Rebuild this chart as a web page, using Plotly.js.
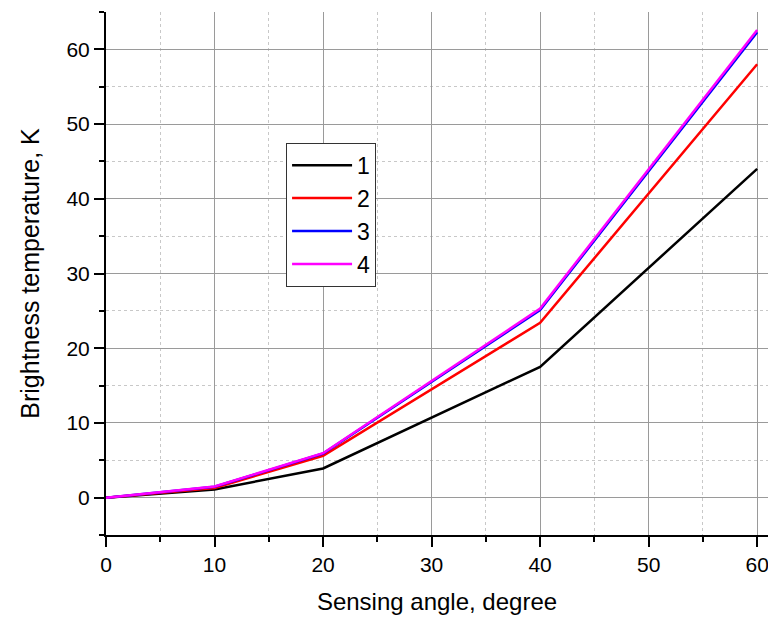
<!DOCTYPE html>
<html>
<head>
<meta charset="utf-8">
<script src="https://cdn.plot.ly/plotly-3.0.1.min.js"></script>
<style>html,body{margin:0;padding:0;background:#fff;}#chart{width:768px;height:620px;}</style>
</head>
<body>
<div id="chart"></div>
<script>
const angles = [0, 10, 20, 40, 60];
const seriesNames = ["1", "2", "3", "4"];
const series1 = [0, 1.1, 3.9, 17.5, 44.0];
const series2 = [0, 1.3, 5.6, 23.4, 58.0];
const series3 = [0, 1.45, 5.9, 25.1, 62.3];
const series4 = [0, 1.5, 5.95, 25.3, 62.6];
const colors = ["#000000", "#ff0000", "#0000ff", "#ff00ff"];
const allSeries = [series1, series2, series3, series4];

const traces = allSeries.map((s, i) => ({
  x: angles, y: s, type: "scatter", mode: "lines", name: seriesNames[i],
  line: {color: colors[i], width: 2.5}
}));

const fam = "Liberation Sans, Arial, sans-serif";
const axisCommon = {
  showline: true, linecolor: "#000", linewidth: 2, mirror: false,
  ticks: "outside", ticklen: 10, tickwidth: 2, tickcolor: "#000",
  showgrid: true, gridcolor: "#9a9a9a", gridwidth: 1, zeroline: false,
  tickfont: {family: fam, size: 21, color: "#000"},
  ticklabeloverflow: "allow",
  minor: {dtick: 5, ticklen: 5, tickwidth: 2, tickcolor: "#000", ticks: "outside",
          showgrid: true, gridcolor: "#c8c8c8", griddash: "dot", gridwidth: 1}
};

const layout = {
  width: 768, height: 620,
  margin: {l: 106, r: 0, t: 12, b: 85},
  paper_bgcolor: "#fff", plot_bgcolor: "#fff",
  font: {family: fam, color: "#000"},
  xaxis: Object.assign({}, axisCommon, {
    range: [0, 61], dtick: 10, tick0: 0,
    title: {text: "Sensing angle, degree", font: {family: fam, size: 24, color: "#000"}, standoff: 18}
  }),
  yaxis: Object.assign({}, axisCommon, {
    range: [-5, 65], dtick: 10, tick0: 0,
    title: {text: "Brightness temperature, K", font: {family: fam, size: 25, color: "#000"}, standoff: 20}
  }),
  showlegend: true,
  legend: {
    x: 0.272, y: 0.75, xanchor: "left", yanchor: "top",
    bgcolor: "#fff", bordercolor: "#333", borderwidth: 1,
    font: {family: fam, size: 23, color: "#000"}, itemwidth: 60, tracegroupgap: 0
  }
};

Plotly.newPlot("chart", traces, layout, {displayModeBar: false, staticPlot: true});
</script>
</body>
</html>
